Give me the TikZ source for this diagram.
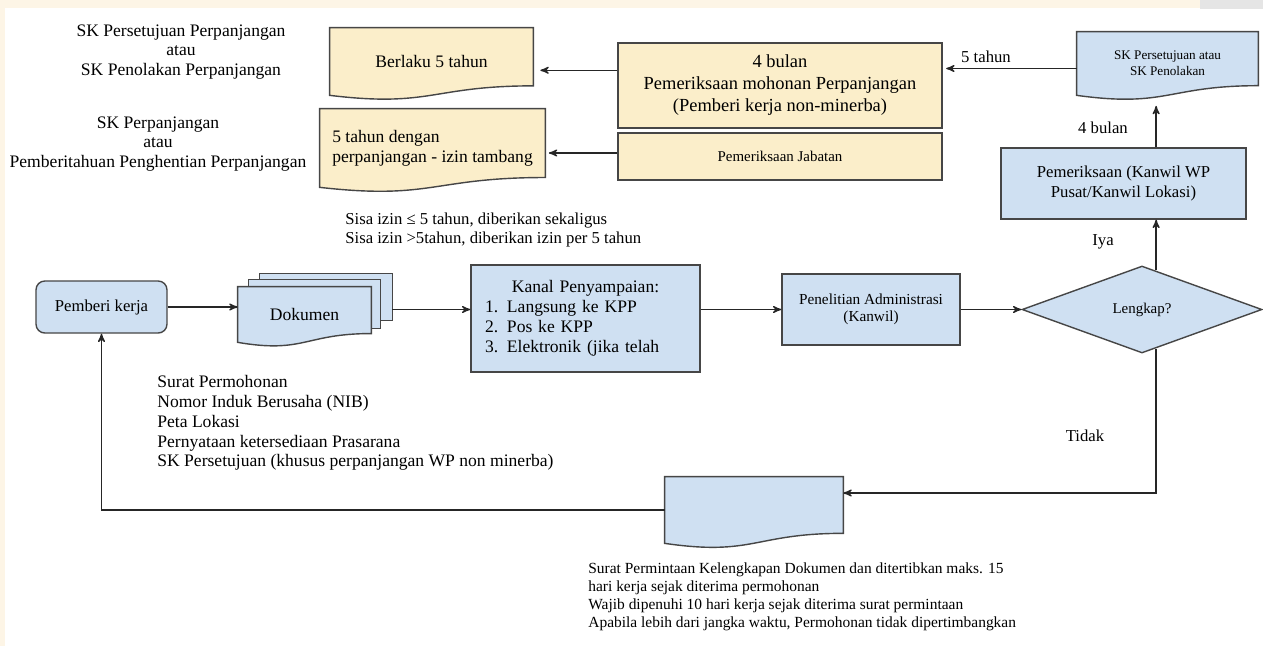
\documentclass[tikz,border=0pt]{standalone}
\usepackage{fontspec}
\setmainfont{Liberation Serif}
\usetikzlibrary{shapes.geometric,arrows,calc,positioning,backgrounds}
\definecolor{boxblue}{RGB}{207,224,242}
\definecolor{boxyellow}{RGB}{251,238,202}
\definecolor{edgegray}{RGB}{70,70,70}
\definecolor{pagecream}{RGB}{253,245,230}
\tikzset{main box/.style={rectangle,draw=edgegray,line width=0.8pt,fill=boxblue,inner sep=2pt,align=center,font=\fontsize{9.5}{11.3}\selectfont},
         start box/.style={main box,rounded corners=5pt},
         doc box/.style={rectangle,draw=none,inner sep=2pt,align=center,font=\fontsize{10}{11.3}\selectfont},
         decision/.style={diamond,draw=edgegray,line width=0.8pt,fill=boxblue,inner sep=0pt,font=\fontsize{8.5}{10}\selectfont},
         page/.style={draw=edgegray,line width=0.8pt},
         edge label/.style={rectangle,draw=none,fill=none,inner sep=0pt,font=\fontsize{9.5}{11.3}\selectfont},
         note text/.style={rectangle,draw=none,fill=none,inner sep=0pt,align=left,anchor=west,font=\fontsize{10}{11.3}\selectfont},
         flow/.style={->,draw=black!85,line width=0.75pt},
}
% outline of a document shape (wavy bottom) behind node #1
\newcommand{\docpath}[3]{%
  \begin{scope}[on background layer]
  \path[page,fill=#2] (#1.north west) -- (#1.north east) -- ([yshift=#3]#1.south east)
     .. controls ($(#1.south west)!0.5!(#1.south east)+(0pt,#3)$) and ($(#1.south west)!0.5!(#1.south east)+(0pt,{-1.3*#3})$) .. (#1.south west) -- cycle;
  \end{scope}}

\begin{document}
\begin{tikzpicture}[x=0.02cm,y=-0.02cm,>=stealth']

\useasboundingbox (0,0) rectangle (1263,646);
\begin{scope}[on background layer]
\fill[pagecream] (0,0) rectangle (1263,646);
\fill[white] (5,8) rectangle (1263,646);
\fill[black!10] (1200,0) rectangle (1263,9);
\end{scope}

% \draw[help lines] (0,0) grid[step=50] (1263,646);

% top row
\node[doc box,minimum width=4.06cm,minimum height=1.34cm] (berlaku) at (431.5,61.5) {Berlaku 5 tahun};
\node[doc box,minimum width=4.5cm,minimum height=1.56cm,align=left] (tambang) at (432.5,148) {5 tahun dengan\\perpanjangan - izin tambang};
\node[main box,fill=boxyellow,minimum width=6.48cm,minimum height=1.7cm,font=\fontsize{10.5}{12.5}\selectfont] (bulan) at (780,85.5) {4 bulan\\Pemeriksaan mohonan Perpanjangan\\(Pemberi kerja non-minerba)};
\node[main box,fill=boxyellow,minimum width=6.48cm,minimum height=0.94cm,font=\fontsize{8.5}{10}\selectfont] (jabatan) at (780,156.5) {Pemeriksaan Jabatan};
\node[doc box,minimum width=3.62cm,minimum height=1.26cm,font=\fontsize{7.5}{9}\selectfont] (skdoc) at (1167.5,63.5) {SK Persetujuan atau\\SK Penolakan};
\node[main box,minimum width=4.9cm,minimum height=1.42cm] (kanwil) at (1123.5,183.5) {Pemeriksaan (Kanwil WP\\Pusat/Kanwil Lokasi)};
\docpath{berlaku}{boxyellow}{5.4pt}
\docpath{tambang}{boxyellow}{5.6pt}
\docpath{skdoc}{boxblue}{5.5pt}

\node[note text,anchor=center,align=center] (hasil1) at (181,52) {SK Persetujuan Perpanjangan\\atau\\SK Penolakan Perpanjangan};
\node[note text,anchor=center,align=center] (hasil2) at (158,144) {SK Perpanjangan\\atau\\Pemberitahuan Penghentian Perpanjangan};

% middle row
\node[start box,minimum width=2.62cm,minimum height=1.04cm] (pemberi) at (101.5,307) {Pemberi kerja};
\node[doc box,minimum width=2.64cm,minimum height=0.92cm] (dokc) at (326,297) {};
\node[doc box,minimum width=2.62cm,minimum height=0.96cm] (dokb) at (314.5,304) {};
\node[doc box,minimum width=2.66cm,minimum height=1.1cm] (dok) at (304.5,314.5) {Dokumen};
\begin{scope}[on background layer]
\path[page,fill=boxblue] (dokc.north west) rectangle (dokc.south east);
\path[page,fill=boxblue] (dokb.north west) rectangle (dokb.south east);
\end{scope}
\docpath{dok}{boxblue}{5pt}
\node[main box,minimum width=4.58cm,minimum height=2.14cm,text width=4.02cm,inner xsep=0.28cm,align=left,font=\fontsize{10}{11.3}\selectfont] (kanal) at (585.5,318.5)
  {\makebox[4.02cm][c]{Kanal Penyampaian:}\\1. Langsung ke KPP\\2. Pos ke KPP\\3. Elektronik (jika telah};
\node[main box,minimum width=3.56cm,minimum height=1.42cm,font=\fontsize{8.7}{10}\selectfont] (pen) at (871,309.5) {Penelitian Administrasi\\(Kanwil)};
\node[decision,minimum width=4.8cm,minimum height=1.74cm] (lk) at (1142,309.5) {Lengkap?};

\node[note text,font=\fontsize{9.5}{11.3}\selectfont] (sisa) at (345,230) {Sisa izin ≤ 5 tahun, diberikan sekaligus\\Sisa izin >5tahun, diberikan izin per 5 tahun};
\node[note text] (syarat) at (157,423) {Surat Permohonan\\Nomor Induk Berusaha (NIB)\\Peta Lokasi\\Pernyataan ketersediaan Prasarana\\SK Persetujuan (khusus perpanjangan WP non minerba)};

% bottom
\node[doc box,minimum width=3.56cm,minimum height=1.32cm] (minta) at (754,510) {};
\docpath{minta}{boxblue}{5.7pt}
\node[note text,font=\fontsize{8.8}{10.2}\selectfont] (ket) at (588,596.5) {Surat Permintaan Kelengkapan Dokumen dan ditertibkan maks. 15\\hari kerja sejak diterima permohonan\\Wajib dipenuhi 10 hari kerja sejak diterima surat permintaan\\Apabila lebih dari jangka waktu, Permohonan tidak dipertimbangkan};

% connectors
\coordinate (iya) at ($(lk.north)!0.117!(lk.east)$);
\coordinate (tidak) at ($(lk.south)!0.117!(lk.east)$);
\draw[flow] (pemberi.east) -- (pemberi.east -| dok.west);
\draw[flow] (dokc.east |- pen.west) -- (kanal.west |- pen.west);
\draw[flow] (kanal.east |- pen.west) -- (pen.west);
\draw[flow] (pen.east) -- (lk.west);
\draw[flow] (iya) -- (iya |- kanwil.south);
\draw[flow,shorten >=6pt] (iya |- kanwil.north) -- (iya |- skdoc.south);
\draw[flow,shorten >=2pt] ([yshift=-0.1cm]skdoc.west) -- ([yshift=-0.1cm]skdoc.west -| bulan.east);
\draw[flow,shorten >=4pt] ([yshift=-0.56cm]bulan.north west) -- ([yshift=-0.56cm]bulan.north west -| berlaku.east);
\draw[flow,shorten >=2pt] ([yshift=0.07cm]jabatan.west) -- ([yshift=0.07cm]jabatan.west -| tambang.east);
\draw[flow] (tidak) |- ([yshift=0.34cm]minta.east);
\draw[flow] (minta.west) -| (pemberi.south);

\node[edge label] (l5th) at (986,57) {5 tahun};
\node[edge label] (l4bl) at (1103,128) {4 bulan};
\node[edge label] (liya) at (1103,242) {Iya};
\node[edge label] (ltdk) at (1085,436) {Tidak};

\end{tikzpicture}
\end{document}
